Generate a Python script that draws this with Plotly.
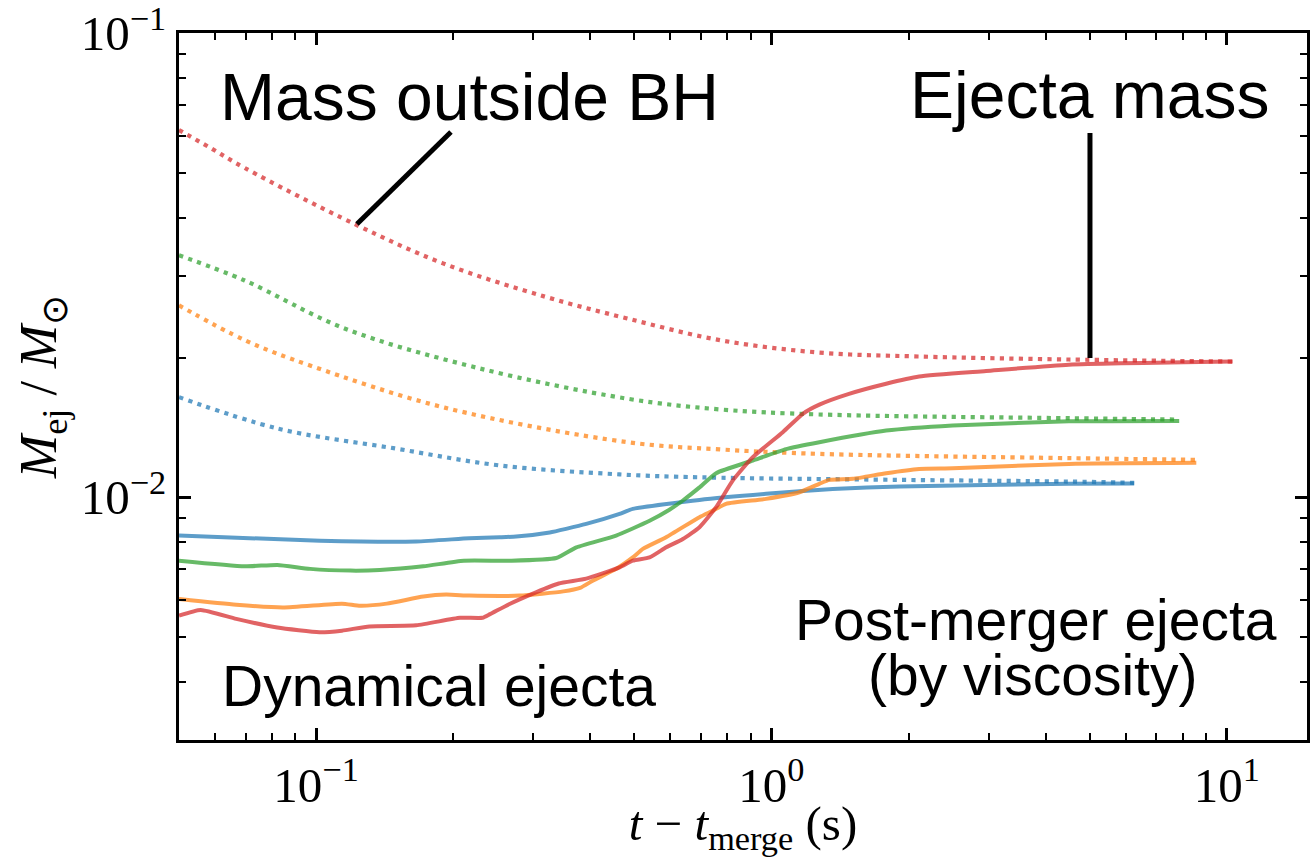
import plotly.graph_objects as go

# ---------------- data ----------------
# "Mass outside BH" (dotted)
t_out_blue = [0.05, 0.0824, 0.149, 0.253, 0.464, 0.695, 1.91, 4.5, 6.26]
m_out_blue = [0.01643, 0.01406, 0.01274, 0.01171, 0.0112, 0.01104, 0.0109, 0.01081, 0.01074]

t_out_orange = [0.05, 0.0697, 0.0973, 0.1915, 0.483, 0.77, 1.27, 4.5, 8.57]
m_out_orange = [0.0259, 0.0218, 0.0192, 0.0156, 0.01314, 0.01268, 0.0124, 0.01214, 0.01204]

t_out_green = [0.05, 0.0697, 0.1155, 0.226, 0.483, 0.77, 1.27, 4.5, 7.86]
m_out_green = [0.0332, 0.0293, 0.0231, 0.0190, 0.0163, 0.01546, 0.01508, 0.0148, 0.0147]

t_out_red = [0.05, 0.0587, 0.0697, 0.122, 0.19, 0.32, 0.48, 0.77, 1.27, 2.1, 4.5, 10.3]
m_out_red = [0.0618, 0.0565, 0.0512, 0.0387, 0.0319, 0.0270, 0.0243, 0.0218, 0.0205, 0.0201, 0.0198, 0.0196]

# "Ejecta mass" (solid)
t_ej_blue = [0.05, 0.102, 0.166, 0.217, 0.253, 0.275, 0.326, 0.354, 0.392, 0.464, 0.496,
             0.695, 0.973, 1.363, 1.91, 4.5, 6.26]
m_ej_blue = [0.00827, 0.00806, 0.00803, 0.00816, 0.0082, 0.00823, 0.0084, 0.00855, 0.00876,
             0.00921, 0.00944, 0.00987, 0.01017, 0.01042, 0.01055, 0.01069, 0.0107]

t_ej_orange = [0.05, 0.0668, 0.0846, 0.114, 0.125, 0.143, 0.172, 0.193, 0.217, 0.28, 0.349,
               0.38, 0.405, 0.456, 0.496, 0.522, 0.587, 0.695, 0.744, 0.795, 0.973, 1.152,
               1.274, 1.34, 1.51, 1.786, 2.11, 2.5, 4.5, 8.57]
m_ej_orange = [0.00604, 0.00587, 0.00579, 0.0059, 0.00584, 0.0059, 0.00611, 0.00617, 0.00614,
               0.00614, 0.00627, 0.00638, 0.00661, 0.00701, 0.00742, 0.00774, 0.0082, 0.00906,
               0.00936, 0.00968, 0.00992, 0.01025, 0.01069, 0.0109, 0.01096, 0.01127, 0.01151,
               0.01155, 0.0118, 0.01186]

t_ej_green = [0.05, 0.0697, 0.0822, 0.097, 0.119, 0.138, 0.172, 0.211, 0.266, 0.337, 0.373,
              0.456, 0.54, 0.597, 0.639, 0.695, 0.756, 0.91, 1.077, 1.274, 1.786, 2.5, 4.5, 7.86]
m_ej_green = [0.0073, 0.0071, 0.00715, 0.00701, 0.00695, 0.00697, 0.0071, 0.0073, 0.0073,
              0.0074, 0.0078, 0.00827, 0.0089, 0.0094, 0.00984, 0.0105, 0.01127, 0.0120,
              0.0127, 0.01314, 0.01392, 0.01428, 0.01457, 0.0146]

t_ej_red = [0.05, 0.0558, 0.0668, 0.0822, 0.1017, 0.114, 0.131, 0.166, 0.207, 0.232, 0.241,
            0.266, 0.304, 0.341, 0.392, 0.464, 0.496, 0.54, 0.587, 0.639, 0.695, 0.756, 0.822,
            0.91, 1.059, 1.172, 1.274, 1.48, 1.786, 2.11, 2.96, 4.5, 10.3]
m_ej_red = [0.00556, 0.00572, 0.00547, 0.00524, 0.00512, 0.00516, 0.00527, 0.0053, 0.0055,
            0.0055, 0.0056, 0.00589, 0.00624, 0.00652, 0.00668, 0.00706, 0.0073, 0.00742,
            0.0078, 0.00813, 0.00862, 0.00952, 0.01086, 0.0122, 0.01381, 0.01513, 0.01583,
            0.0167, 0.01756, 0.0182, 0.0187, 0.0193, 0.0196]

x_major = [0.1, 1, 10]
x_major_text = ["10<sup>−1</sup>", "10<sup>0</sup>", "10<sup>1</sup>"]
y_major = [0.01, 0.1]
y_major_text = ["10<sup>−2</sup>", "10<sup>−1</sup>"]
x_minor = [0.06, 0.07, 0.08, 0.09, 0.2, 0.3, 0.4, 0.5, 0.6, 0.7, 0.8, 0.9,
           2, 3, 4, 5, 6, 7, 8, 9]
y_minor = [0.003, 0.004, 0.005, 0.006, 0.007, 0.008, 0.009,
           0.02, 0.03, 0.04, 0.05, 0.06, 0.07, 0.08, 0.09]

# ---------------- styling ----------------
colors = {
    "blue": "rgba(31,119,180,0.72)",
    "orange": "rgba(255,127,14,0.72)",
    "green": "rgba(44,160,44,0.72)",
    "red": "rgba(214,39,40,0.72)",
}

fig = go.Figure()

outside = [("blue", t_out_blue, m_out_blue), ("orange", t_out_orange, m_out_orange),
           ("green", t_out_green, m_out_green), ("red", t_out_red, m_out_red)]
ejecta = [("blue", t_ej_blue, m_ej_blue), ("orange", t_ej_orange, m_ej_orange),
          ("green", t_ej_green, m_ej_green), ("red", t_ej_red, m_ej_red)]

for name, t, m in outside:
    fig.add_trace(go.Scatter(x=t, y=m, mode="lines", line_shape="spline",
                             line=dict(color=colors[name], width=4.2, dash="4.2px,5.3px"),
                             showlegend=False, hoverinfo="skip"))
for name, t, m in ejecta:
    fig.add_trace(go.Scatter(x=t, y=m, mode="lines", line_shape="spline",
                             line=dict(color=colors[name], width=4, smoothing=0.5),
                             showlegend=False, hoverinfo="skip"))

serif = "Liberation Serif"
sans = "Liberation Sans"

axis_common = dict(
    type="log", showgrid=False, zeroline=False,
    showline=True, linecolor="black", linewidth=3, mirror="allticks",
    ticks="inside", ticklen=12, tickwidth=2.5, tickcolor="black",
    tickfont=dict(family=serif, size=49, color="black"),
    ticklabeloverflow="allow",
)

fig.update_xaxes(
    **axis_common,
    range=[-1.30103, 1.17609],
    tickmode="array", tickvals=x_major, ticktext=x_major_text,
    minor=dict(tickmode="array", tickvals=x_minor, ticks="inside", ticklen=7,
               tickwidth=2, tickcolor="black"),
    title=dict(text="<i>t</i> − <i>t</i><sub>merge</sub> (s)",
               font=dict(family=serif, size=49, color="black"), standoff=2),
)
fig.update_yaxes(
    **axis_common,
    range=[-2.52288, -1.0],
    tickmode="array", tickvals=y_major, ticktext=y_major_text,
    minor=dict(tickmode="array", tickvals=y_minor, ticks="inside", ticklen=7,
               tickwidth=2, tickcolor="black"),
    title=dict(text="<i>M</i><sub>ej</sub> / <i>M</i><sub>⊙</sub>",
               font=dict(family=serif, size=52, color="black"), standoff=8),
)

# pointer lines
fig.add_shape(type="line", xref="paper", yref="paper",
              x0=0.1578, y0=0.7298, x1=0.2411, y1=0.860,
              line=dict(color="black", width=5))
fig.add_shape(type="line", xref="paper", yref="paper",
              x0=0.8076, y0=0.5403, x1=0.8076, y1=0.8586,
              line=dict(color="black", width=5))

ann_font_big = dict(family=sans, size=66, color="black")
ann_font_mid = dict(family=sans, size=57, color="black")
annotations = [
    dict(text="Mass outside BH", x=0.0346, y=0.9095, xanchor="left", yanchor="middle", font=ann_font_big),
    dict(text="Ejecta mass", x=0.8076, y=0.912, xanchor="center", yanchor="middle", font=ann_font_big),
    dict(text="Dynamical ejecta", x=0.0363, y=0.0764, xanchor="left", yanchor="middle", font=ann_font_mid),
    dict(text="Post-merger ejecta", x=0.7598, y=0.1697, xanchor="center", yanchor="middle", font=ann_font_mid),
    dict(text="(by viscosity)", x=0.757, y=0.092, xanchor="center", yanchor="middle", font=ann_font_mid),
]
for a in annotations:
    fig.add_annotation(xref="paper", yref="paper", showarrow=False, **a)

fig.update_layout(
    width=1310, height=857,
    margin=dict(l=179, r=3, t=33, b=117, autoexpand=False),
    paper_bgcolor="white", plot_bgcolor="white",
)

fig.write_html("out.html")
